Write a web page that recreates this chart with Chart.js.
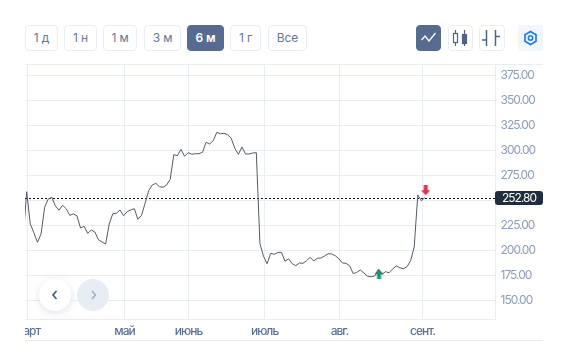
<!DOCTYPE html>
<html><head><meta charset="utf-8">
<script src="https://cdn.jsdelivr.net/npm/chart.js@4"></script>
<style>
html,body{margin:0;padding:0;background:#fff;width:571px;height:357px;overflow:hidden;font-family:Inter,sans-serif}
.b{position:absolute;top:25px;height:26px;box-sizing:border-box;border:1px solid #e9eef5;border-radius:4px;background:#fff;color:#64779a;font-size:12px;line-height:24px;text-align:center;letter-spacing:-.1px}
.b.on{background:#566b8f;border-color:#566b8f;color:#fff;font-weight:600}
.l{position:absolute;left:25px;width:518px;height:1px;background:#e8edf4}
#c{position:absolute;left:25px;top:64px}
#p{position:absolute;left:495px;top:191px;width:48px;height:14px;border-radius:3px;background:#1f2d3d;color:#fff;font-size:12px;line-height:14px;text-align:center;letter-spacing:-1px}
svg{position:absolute}
</style></head><body>
<div class="l" style="top:64px"></div><div class="l" style="top:340px"></div>
<canvas id="c" width="518" height="277"></canvas>
<div id="btns"></div>
<div class="b on" style="left:416px;width:25px"></div>
<div class="b" style="left:448px;width:25px"></div>
<div class="b" style="left:479px;width:26px"></div>
<div style="position:absolute;left:518px;top:25px;width:25px;height:26px;background:#f3f6fa"></div>
<svg style="left:416px;top:25px" width="127" height="26" fill="none">
<path d="M5.5 15 L9 11 L13 16 L19.5 8" stroke="#fff" stroke-width="1.3"/>
<g stroke="#4f6388" stroke-width="1.2"><path d="M39.5 5V21M48.5 5V21"/><rect x="37.5" y="8.5" width="4" height="9" fill="#fff"/><rect x="46.5" y="9.5" width="4" height="9" fill="#4f6388"/>
<path d="M70.5 5V21M79.5 5V21M66 15H70.5M79.5 11.5H84" stroke-width="1.5"/></g>
<path d="M114.5 6.5 L120 9.7 V16.3 L114.5 19.5 L109 16.3 V9.7Z" stroke="#1a7cf0" stroke-width="1.7"/><circle cx="114.5" cy="13" r="2.2" stroke="#1a7cf0" stroke-width="1.5"/>
</svg>
<div id="p">252.80</div>
<svg style="left:30px;top:270px;overflow:visible" width="90" height="50" fill="none">
<defs><filter id="s" x="-50%" y="-50%" width="200%" height="200%"><feDropShadow dx="0" dy="2" stdDeviation="4" flood-color="#8fa0bd" flood-opacity=".3"/></filter></defs>
<circle cx="25" cy="25" r="16" fill="#fff" filter="url(#s)"/><circle cx="63" cy="25" r="16" fill="#e8edf5"/>
<path d="M26.5 21 L23 25 L26.5 29" stroke="#3f547a" stroke-width="1.6"/><path d="M62 21 L65.5 25 L62 29" stroke="#9aa8c0" stroke-width="1.4"/>
</svg>
<script>
const rangeLabels=['1 д','1 н','1 м','3 м','6 м','1 г','Все'];
const activeRange='6 м';
const rangeLefts=[25,64,103,144,187,230,268];
const rangeWidths=[33,33,34,37,37,31,39];
const closes=[211,258.6,226.3,217.6,208,216.3,243,251.3,253,244.3,240,245,241.6,235,236.3,234.6,222.3,224,217,220.3,218.3,210.6,208.3,206.3,226.3,236.6,237,240.3,234.6,238.6,240.3,241.6,231,235,247,259.6,265.3,267,263.6,263,265.3,271,295.6,294.6,301,294,297.6,296,296.6,296.6,298,308,306.3,309.6,318,316.6,317,315.6,312,302,296,303.3,296.3,296.3,297.3,297.6,207,194,186.6,197,196,197.8,198,189,191.6,186.6,184.6,187.3,187,189.6,193,189.3,192,192.3,194.3,196.6,196.3,194.6,191.6,187.3,187,184.6,176.6,178,180.3,177.3,174,173.6,174.3,181,176,178.6,177.6,181.3,184.3,182.6,181.6,183.6,189.6,203.3,255.3,249.6,252.8];
const priceLine=251.8;
const monthLabels=['март','май','июнь','июль','авг.','сент.'];
const monthTicks=[1.23,28.26,46.1,67.3,88.2,111.3];
const yTicks=[150,175,200,225,250,275,300,325,350,375];
const sellSignal=[{x:112.2,y:260}];
const buySignal=[{x:99.2,y:176}];
const xMin=0.53,xMax=131.66,yMin=130.8,yMax=385.8;

rangeLabels.forEach((t,i)=>{const d=document.createElement('div');d.className='b'+(t===activeRange?' on':'');d.textContent=t;d.style.left=rangeLefts[i]+'px';d.style.width=rangeWidths[i]+'px';document.getElementById('btns').appendChild(d)});

function arrow(color,up){const c=document.createElement('canvas');c.width=9;c.height=10;const g=c.getContext('2d');g.fillStyle=color;if(!up){g.translate(0,10);g.scale(1,-1)}g.beginPath();g.moveTo(4.5,0);g.lineTo(9,5);g.lineTo(6.5,5);g.lineTo(6.5,10);g.lineTo(2.5,10);g.lineTo(2.5,5);g.lineTo(0,5);g.closePath();g.fill();return c}

const gridC='#e8edf4';
new Chart(document.getElementById('c'),{
 type:'line',
 data:{datasets:[
  {data:closes.map((v,i)=>({x:i,y:v})),borderColor:'#555b64',borderWidth:1,pointRadius:0,tension:0},
  {data:[{x:xMin,y:priceLine},{x:xMax,y:priceLine}],borderColor:'#111',borderWidth:1,borderDash:[2,2],pointRadius:0},
  {data:sellSignal,showLine:false,pointStyle:arrow('#e5304e',false),pointRadius:5},
  {data:buySignal,showLine:false,pointStyle:arrow('#0b9a78',true),pointRadius:5}
 ]},
 plugins:[{id:'sp',beforeDraw(ch){ch.ctx.letterSpacing='-1px'}}],
 options:{responsive:false,animation:false,devicePixelRatio:1,
  layout:{autoPadding:false,padding:{top:0.5,left:0,right:0,bottom:0}},
  plugins:{legend:{display:false},tooltip:{enabled:false}},
  scales:{
   x:{type:'linear',min:xMin,max:xMax,
    afterBuildTicks:s=>{s.ticks=monthTicks.map(v=>({value:v}))},
    afterFit:s=>{s.height=21.5;s.paddingLeft=0;s.paddingRight=0},
    grid:{color:gridC,drawTicks:false},border:{color:gridC},
    ticks:{autoSkip:false,maxRotation:0,padding:5,color:'#5d7096',font:{family:'Inter',size:12,weight:'500'},callback:v=>monthLabels[monthTicks.indexOf(v)]}},
   y:{position:'right',min:yMin,max:yMax,
    afterBuildTicks:s=>{s.ticks=yTicks.map(v=>({value:v}))},
    afterFit:s=>{s.width=47.5;s.paddingTop=0;s.paddingBottom=0},
    grid:{color:gridC,drawTicks:false},border:{color:gridC},
    ticks:{padding:5,color:'#8d9cb8',font:{family:'Inter',size:12},callback:v=>v.toFixed(2)}}
  }}
});
</script>
</body></html>
